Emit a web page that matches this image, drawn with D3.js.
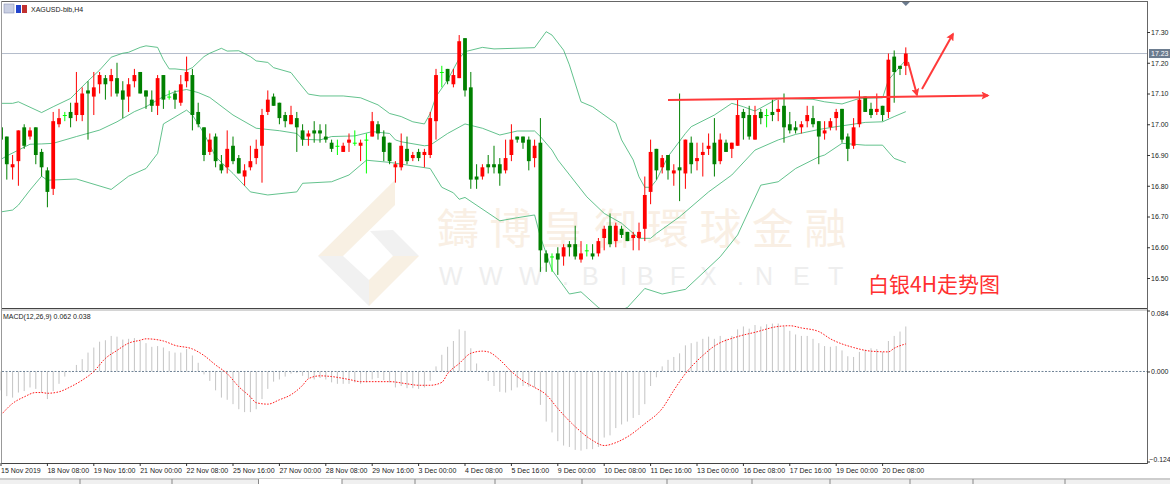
<!DOCTYPE html>
<html><head><meta charset="utf-8">
<script src="https://cdn.jsdelivr.net/npm/d3@7"></script>
<style>html,body{margin:0;padding:0;background:#fff}svg{display:block}text{font-family:"Liberation Sans",sans-serif}</style>
</head><body><div id="c"></div>
<script>
const open=[16.99,16.96,16.86,16.88,16.99,16.96,16.99,16.91,16.85,16.79,17.00,17.03,17.04,17.03,17.03,17.11,17.09,17.13,17.15,17.14,17.15,17.11,17.09,17.14,17.17,17.11,17.08,17.06,17.16,17.09,17.10,17.07,17.14,17.16,17.04,16.99,16.91,16.96,16.87,16.86,16.93,16.89,16.83,16.86,16.89,16.93,17.04,17.09,17.07,17.03,17.00,17.02,16.98,16.96,16.98,16.98,16.96,16.94,16.93,16.91,16.94,16.94,16.93,16.95,16.96,17.00,16.96,16.94,16.86,16.86,16.92,16.89,16.91,16.90,16.90,17.01,17.17,17.18,17.13,17.15,17.28,17.12,16.83,16.83,16.87,16.87,16.87,16.85,16.90,16.96,16.96,16.95,16.89,16.94,16.58,16.57,16.58,16.57,16.61,16.61,16.56,16.59,16.58,16.58,16.63,16.67,16.62,16.66,16.65,16.63,16.63,16.66,16.78,16.92,16.86,16.90,16.84,16.86,16.84,16.94,16.88,16.90,16.92,16.94,16.88,16.94,16.92,16.93,17.04,17.03,16.95,17.04,17.03,17.04,17.04,17.06,17.00,16.99,16.99,17.01,17.02,17.01,16.97,16.99,17.02,17.05,16.96,16.93,17.00,17.09,17.05,17.04,17.06,17.04,17.22,17.19,17.19];
const close=[16.95,16.87,16.87,16.98,16.93,16.98,16.90,16.86,16.78,17.01,17.02,17.03,17.02,17.07,17.10,17.10,17.12,17.16,17.13,17.16,17.10,17.08,17.13,17.16,17.10,17.09,17.06,17.15,17.08,17.09,17.08,17.13,17.17,17.03,17.00,16.90,16.95,16.88,16.85,16.92,16.88,16.84,16.85,16.88,16.92,17.03,17.08,17.06,17.02,17.01,17.03,16.99,16.95,16.97,16.97,16.97,16.95,16.92,16.93,16.93,16.95,16.94,16.94,16.95,17.01,16.97,16.91,16.88,16.87,16.93,16.88,16.90,16.89,16.91,17.02,17.16,17.17,17.14,17.16,17.27,17.11,16.82,16.82,16.86,16.86,16.86,16.84,16.89,16.95,16.95,16.94,16.88,16.93,16.59,16.55,16.57,16.56,16.60,16.60,16.57,16.58,16.59,16.57,16.62,16.66,16.61,16.67,16.64,16.62,16.64,16.65,16.77,16.91,16.85,16.89,16.85,16.85,16.85,16.95,16.87,16.89,16.91,16.93,16.87,16.95,16.91,16.94,17.03,17.02,16.96,17.03,17.02,17.03,17.03,17.05,16.99,16.98,16.98,17.00,17.03,17.00,16.96,16.98,17.01,17.04,16.95,16.92,16.99,17.08,17.04,17.03,17.05,17.03,17.21,17.17,17.18,17.23];
const high=[17.00,16.96,16.90,16.98,17.00,16.99,16.99,16.92,16.86,17.04,17.05,17.04,17.07,17.17,17.12,17.14,17.17,17.17,17.16,17.18,17.20,17.14,17.15,17.18,17.17,17.11,17.11,17.16,17.16,17.11,17.11,17.16,17.22,17.18,17.07,16.99,16.97,16.97,16.90,16.98,16.96,16.90,16.87,16.93,16.95,17.05,17.11,17.10,17.07,17.04,17.06,17.04,17.00,16.98,17.01,17.00,17.00,16.95,16.95,16.94,16.97,16.98,16.95,16.97,17.04,17.01,16.98,16.94,16.88,16.97,16.96,16.91,16.92,16.92,17.04,17.18,17.19,17.18,17.18,17.29,17.28,17.17,16.87,16.87,16.90,16.93,16.89,16.95,17.00,16.96,16.96,16.96,16.95,17.02,16.59,16.58,16.60,16.61,16.62,16.67,16.62,16.61,16.61,16.63,16.67,16.71,16.68,16.67,16.65,16.65,16.68,16.83,16.95,16.92,16.90,16.90,16.87,17.10,16.95,16.96,16.94,16.94,16.97,17.02,16.97,16.95,16.94,17.08,17.05,17.06,17.06,17.05,17.05,17.08,17.08,17.10,17.04,17.01,17.01,17.06,17.06,17.01,17.01,17.02,17.05,17.05,16.97,17.02,17.11,17.09,17.07,17.10,17.06,17.23,17.24,17.19,17.25];
const low=[16.94,16.82,16.82,16.80,16.92,16.95,16.87,16.83,16.73,16.77,16.99,17.01,16.99,17.01,17.01,16.95,17.03,17.10,17.08,17.09,17.09,17.02,17.04,17.12,17.10,17.05,17.04,17.03,17.05,17.08,17.05,17.06,17.12,16.98,16.99,16.88,16.90,16.86,16.84,16.84,16.87,16.84,16.80,16.85,16.87,16.81,17.03,17.06,17.00,16.99,17.00,16.91,16.93,16.93,16.94,16.94,16.94,16.91,16.90,16.91,16.91,16.93,16.88,16.84,16.96,16.95,16.88,16.87,16.81,16.85,16.87,16.88,16.88,16.86,16.89,16.95,17.12,17.13,17.12,17.15,17.09,16.79,16.79,16.82,16.84,16.84,16.80,16.84,16.88,16.94,16.92,16.85,16.86,16.52,16.52,16.52,16.51,16.54,16.57,16.56,16.55,16.57,16.56,16.57,16.59,16.60,16.60,16.63,16.62,16.59,16.59,16.62,16.74,16.82,16.84,16.82,16.80,16.75,16.79,16.84,16.85,16.83,16.90,16.83,16.87,16.91,16.89,16.93,16.95,16.95,16.95,17.00,16.99,17.01,17.01,16.94,16.97,16.97,16.97,16.99,16.99,16.87,16.95,16.98,16.98,16.94,16.88,16.92,16.99,17.04,17.02,17.03,17.01,17.02,17.07,17.16,17.16];

const macdHist=[-0.026,-0.034,-0.036,-0.029,-0.027,-0.022,-0.024,-0.029,-0.038,-0.027,-0.017,-0.007,-0.001,0.009,0.017,0.026,0.033,0.041,0.043,0.049,0.048,0.044,0.045,0.046,0.042,0.039,0.034,0.035,0.033,0.028,0.026,0.026,0.031,0.022,0.012,-0.004,-0.013,-0.026,-0.036,-0.039,-0.045,-0.052,-0.056,-0.056,-0.052,-0.038,-0.024,-0.014,-0.011,-0.007,-0.003,-0.002,-0.006,-0.009,-0.011,-0.009,-0.011,-0.015,-0.017,-0.017,-0.017,-0.015,-0.017,-0.015,-0.011,-0.009,-0.012,-0.015,-0.022,-0.020,-0.023,-0.023,-0.024,-0.022,-0.013,0.007,0.023,0.034,0.042,0.058,0.056,0.032,0.011,-0.001,-0.013,-0.020,-0.028,-0.029,-0.026,-0.022,-0.020,-0.021,-0.022,-0.046,-0.069,-0.084,-0.096,-0.102,-0.104,-0.108,-0.109,-0.107,-0.107,-0.104,-0.091,-0.088,-0.078,-0.073,-0.069,-0.064,-0.060,-0.045,-0.020,-0.008,0.007,0.016,0.020,0.025,0.036,0.039,0.041,0.045,0.048,0.045,0.049,0.045,0.049,0.058,0.062,0.059,0.064,0.062,0.065,0.066,0.066,0.062,0.056,0.051,0.049,0.049,0.045,0.039,0.035,0.034,0.035,0.029,0.021,0.020,0.027,0.030,0.032,0.031,0.027,0.042,0.049,0.055,0.062];
const signalBars=[0,2,4,6,7,8,10,12,14,16,18,20,22,24,25,28,30,33,35,37,39,41,43,44,46,48,50,52,53,55,57,60,62,67,70,72,74,76,77,79,81,83,84,86,88,90,92,94,96,99,102,104,106,108,111,114,116,118,121,123,127,130,134,136,138,141,143,147,150,153,154,156];
const signalVals=[-0.060,-0.044,-0.035,-0.029,-0.029,-0.030,-0.028,-0.021,-0.012,0,0.018,0.029,0.039,0.043,0.045,0.042,0.036,0.031,0.022,0.009,-0.003,-0.021,-0.035,-0.043,-0.045,-0.039,-0.032,-0.019,-0.010,-0.006,-0.007,-0.011,-0.014,-0.014,-0.017,-0.019,-0.019,-0.015,-0.003,0.011,0.025,0.028,0.027,0.016,0,-0.013,-0.022,-0.032,-0.051,-0.076,-0.095,-0.102,-0.098,-0.090,-0.072,-0.051,-0.026,-0.003,0.022,0.035,0.048,0.054,0.062,0.063,0.060,0.055,0.045,0.033,0.028,0.027,0.032,0.038];

const upperBars=[0,2,3,7,9,12,15,17,19,21,22,24,25,27,28,29,30,32,33,35,36,38,39,41,43,44,46,47,50,51,53,55,59,62,65,67,69,71,73,74,75,77,79,80,83,85,92,94,95,97,98,100,102,106,107,109,110,111,112,113,115,118,119,123,126,128,130,134,140,142,145,148,152,153,156];
const upperVals=[17.068,17.068,17.073,17.038,17.057,17.084,17.141,17.176,17.218,17.231,17.234,17.25,17.255,17.25,17.21,17.18,17.18,17.176,17.184,17.22,17.231,17.247,17.238,17.239,17.22,17.206,17.201,17.184,17.168,17.144,17.098,17.092,17.092,17.086,17.063,17.035,17.025,17.008,17.001,17.035,17.09,17.144,17.214,17.236,17.25,17.245,17.249,17.301,17.29,17.241,17.193,17.073,17.057,17.003,16.949,16.884,16.829,16.795,16.795,16.818,16.895,16.97,16.992,17.03,17.068,17.057,17.043,17.084,17.081,17.073,17.066,17.084,17.086,17.144,17.209];
const middleBars=[0,1,3,5,7,9,13,17,20,23,25,28,30,32,34,36,40,44,48,51,52,55,57,61,64,67,68,69,73,74,77,80,83,86,89,92,93,95,96,101,104,107,110,112,113,117,122,126,130,134,137,141,144,149,152,154,156];
const middleVals=[16.886,16.897,16.916,16.935,16.936,16.938,16.96,16.981,17.008,17.041,17.057,17.09,17.106,17.113,17.103,17.087,17.03,16.987,16.979,16.97,16.951,16.949,16.96,16.962,16.976,16.97,16.949,16.943,16.93,16.932,16.97,17.001,16.987,16.965,16.978,16.978,16.96,16.916,16.884,16.764,16.71,16.678,16.629,16.629,16.645,16.699,16.78,16.835,16.916,16.949,16.967,16.983,16.992,17.006,17.008,17.025,17.041];
const lowerBars=[0,2,3,5,7,8,13,19,22,25,27,28,32,33,35,37,40,43,46,51,52,57,60,63,67,74,76,78,79,80,86,89,92,93,95,98,100,103,105,108,111,114,118,124,127,131,134,137,141,142,145,149,152,153,154,156];
const lowerVals=[16.715,16.721,16.737,16.786,16.831,16.818,16.822,16.788,16.831,16.856,16.905,17.001,17.046,17.03,16.97,16.894,16.84,16.78,16.77,16.78,16.808,16.813,16.835,16.883,16.876,16.856,16.795,16.777,16.756,16.762,16.686,16.696,16.705,16.634,16.526,16.448,16.455,16.404,16.38,16.404,16.466,16.448,16.463,16.569,16.64,16.802,16.813,16.856,16.894,16.9,16.938,16.932,16.932,16.91,16.889,16.875];

const priceTicks=[17.30,17.20,17.10,17.00,16.90,16.80,16.70,16.60,16.50];
const lastPrice=17.23;
const macdTicks=[0.084,0,-0.124];
const timeLabels=["15 Nov 2019","18 Nov 08:00","19 Nov 16:00","21 Nov 00:00","22 Nov 08:00","25 Nov 16:00","27 Nov 00:00","28 Nov 08:00","29 Nov 16:00","3 Dec 00:00","4 Dec 08:00","5 Dec 16:00","9 Dec 00:00","10 Dec 08:00","11 Dec 16:00","13 Dec 00:00","16 Dec 08:00","17 Dec 16:00","19 Dec 00:00","20 Dec 08:00"];
const labelStep=8;
const tabEdges=[80,172,415,495,582,667,752,830,910,973,1065];

const W=1170,H=484,L=2,R=1147;
const svg=d3.select("#c").append("svg").attr("width",W).attr("height",H).attr("viewBox",`0 0 ${W} ${H}`);
const x=d3.scaleLinear().domain([0,156]).range([1,905.8]);
const y=d3.scaleLinear().domain([16.5,17.3]).range([278,32]);
const ym=d3.scaleLinear().domain([-0.124,0.084]).range([461.5,310.5]);

// watermark
const wm=svg.append("g");
const tan="#f8f0e3",gry="#f1f1f1";
[[tan,"318,256 395,180 395,205 343,256"],[gry,"318,256 343,256 369,280 369,306"],[tan,"369,280 393,256 419,256 369,306"],[gry,"370,231 393,230 419,256 393,256"]].forEach(d=>wm.append("polygon").attr("points",d[1]).attr("fill",d[0]));
Array.from("鑄博皇御環球金融").forEach((c,i)=>wm.append("text").attr("x",437+i*52.5).attr("y",244).attr("font-size",42).attr("fill","#f9efe4").style("font-family","'Noto Sans CJK TC'").text(c));
wm.append("text").attr("x","439 479 519 562 582 620 637 670 700 737 755 793 828").attr("y",285).attr("font-size",25).attr("fill","#eeeeee").text("WWW.BIBFX.NET");

// clip
svg.append("defs").append("clipPath").attr("id","p").append("rect").attr("x",L).attr("y",2).attr("width",R-L).attr("height",306);
const main=svg.append("g").attr("clip-path","url(#p)");

// last price line
main.append("line").attr("x1",L).attr("x2",R).attr("y1",y(lastPrice)).attr("y2",y(lastPrice)).attr("stroke","#b4bccb").attr("stroke-width",1);

// bands
const bandLine=d3.line().x(d=>x(d[0])).y(d=>y(d[1])).curve(d3.curveLinear);
[[upperBars,upperVals],[middleBars,middleVals],[lowerBars,lowerVals]].forEach(b=>{
  main.append("path").attr("d",bandLine(d3.zip(b[0],b[1]))).attr("fill","none").attr("stroke","#3cb371").attr("stroke-width",1).attr("opacity",.8);
});

// candles
const idx=d3.range(open.length);
const col=i=>close[i]>open[i]?"#ff0000":close[i]<open[i]?"#008000":"#00ff00";
main.selectAll(".w").data(idx).join("line").attr("x1",x).attr("x2",x).attr("y1",i=>y(high[i])).attr("y2",i=>y(low[i])).attr("stroke",col).attr("stroke-width",1);
main.selectAll(".b").data(idx).join("rect")
 .attr("x",i=>x(i)-(open[i]==close[i]?2:1.9)).attr("width",i=>open[i]==close[i]?4:3.8)
 .attr("y",i=>y(Math.max(open[i],close[i]))).attr("height",i=>Math.max(1,Math.abs(y(open[i])-y(close[i]))))
 .attr("fill",col);

// annotation
const red="#ff3a3a";
svg.select("defs").append("marker").attr("id","ah").attr("viewBox","0 0 10 10").attr("refX",8).attr("refY",5).attr("markerWidth",5).attr("markerHeight",4).attr("orient","auto").attr("markerUnits","strokeWidth")
 .append("path").attr("d","M0,0L10,5L0,10L2,5Z").attr("fill",red);
[[668,100,988,95.5],[908,62,917,95],[922,89,953,34]].forEach(a=>svg.append("line").attr("x1",a[0]).attr("y1",a[1]).attr("x2",a[2]).attr("y2",a[3]).attr("stroke",red).attr("stroke-width",2).attr("marker-end","url(#ah)"));
svg.append("text").attr("x",868).attr("y",292).attr("font-size",21).attr("fill","#ff3030").style("font-family","'Noto Sans CJK SC'").text("白银4H走势图");

// macd
const m=svg.append("g");
m.selectAll("line").data(idx).join("line").attr("x1",x).attr("x2",x).attr("y1",ym(0)).attr("y2",i=>ym(macdHist[i])).attr("stroke","#c4c4c4").attr("stroke-width",1);
svg.append("line").attr("x1",L).attr("x2",R).attr("y1",ym(0)).attr("y2",ym(0)).attr("stroke","#6f8296").attr("stroke-width",1).attr("stroke-dasharray","2,1.5");
svg.append("path").attr("d",d3.line().x(d=>x(d[0])).y(d=>ym(d[1])).curve(d3.curveMonotoneX)(d3.zip(signalBars,signalVals))).attr("fill","none").attr("stroke","#ff1a1a").attr("stroke-width",1).attr("stroke-dasharray","1.6,1.4");

// frames
const frame="#444";
svg.append("line").attr("x1",1).attr("x2",R+.5).attr("y1",1.5).attr("y2",1.5).attr("stroke","#666");
svg.append("line").attr("x1",1).attr("x2",R+.5).attr("y1",308.5).attr("y2",308.5).attr("stroke",frame);
svg.append("line").attr("x1",1).attr("x2",R+.5).attr("y1",310).attr("y2",310).attr("stroke","#aaa");
svg.append("line").attr("x1",1).attr("x2",R+.5).attr("y1",463.5).attr("y2",463.5).attr("stroke",frame);
svg.append("line").attr("x1",R+.5).attr("x2",R+.5).attr("y1",1).attr("y2",464).attr("stroke","#666");
svg.append("line").attr("x1",1.5).attr("x2",1.5).attr("y1",1).attr("y2",464).attr("stroke","#999");
svg.append("path").attr("d",`M${x(156)-4},2L${x(156)+4},2L${x(156)},6Z`).attr("fill","#6b7b8e");

// axes
const fs=7;
const gp=svg.append("g").attr("transform",`translate(${R},0)`).call(d3.axisRight(y).tickValues(priceTicks).tickSize(3).tickFormat(d3.format(".2f")));
const gm=svg.append("g").attr("transform",`translate(${R},0)`).call(d3.axisRight(ym).tickValues(macdTicks).tickSize(3).tickFormat(d3.format(".3f")));
[gp,gm].forEach(g=>{g.select(".domain").remove();g.selectAll("text").attr("x",4).attr("font-size",fs).attr("fill","#222").style("font-family","'Liberation Sans'");g.selectAll("line").attr("stroke","#333")});
gm.selectAll("text").attr("y",d=>d>0?3:d<0?-2.5:0).attr("x",d=>d<0?2.5:4).attr("font-size",d=>d<0?6.8:fs);
svg.append("rect").attr("x",R+2).attr("y",y(lastPrice)-4.5).attr("width",W-R-2).attr("height",9).attr("fill","#6b7b8e");
svg.append("text").attr("x",R+4).attr("y",y(lastPrice)+2.5).attr("font-size",fs).attr("fill","#fff").text(d3.format(".2f")(lastPrice));

const tg=svg.append("g");
timeLabels.forEach((t,i)=>{
  const tx=x(i*labelStep);
  tg.append("line").attr("x1",tx).attr("x2",tx).attr("y1",463).attr("y2",466).attr("stroke","#333");
  tg.append("text").attr("x",tx).attr("y",473).attr("font-size",fs).attr("fill","#222").text(t);
});

// header texts
svg.append("rect").attr("x",4).attr("y",4).attr("width",10).attr("height",9).attr("fill","#c9cfe3").attr("stroke","#8a93b5").attr("stroke-width",.6);
svg.append("rect").attr("x",16).attr("y",5).attr("width",5).attr("height",8).attr("fill","#2244cc");
svg.append("rect").attr("x",22).attr("y",5).attr("width",5).attr("height",8).attr("fill","#c03030");
svg.append("text").attr("x",31).attr("y",12).attr("font-size",fs).attr("fill","#222").text("XAGUSD-bib,H4");
svg.append("text").attr("x",3).attr("y",319).attr("font-size",fs).attr("fill","#222").text("MACD(12,26,9) 0.062 0.038");

// tab strip
svg.append("rect").attr("x",0).attr("y",478).attr("width",W).attr("height",6).attr("fill","#f0f0f0");
svg.append("line").attr("x1",0).attr("x2",W).attr("y1",479).attr("y2",479).attr("stroke","#aaa");
svg.append("rect").attr("x",259).attr("y",479).attr("width",83).attr("height",5).attr("fill","#fff");
tabEdges.concat([258.5,342]).forEach(e=>svg.append("line").attr("x1",e).attr("x2",e).attr("y1",479).attr("y2",484).attr("stroke","#888"));
</script></body></html>
